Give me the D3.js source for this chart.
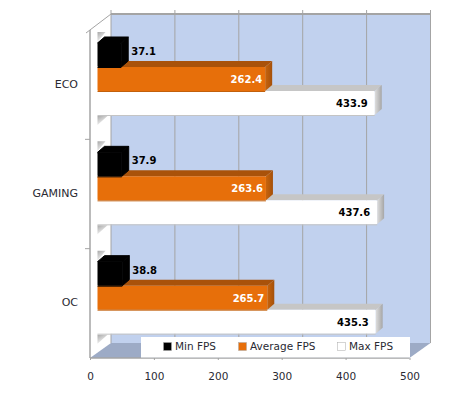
<!DOCTYPE html>
<html>
<head>
<meta charset="utf-8">
<script src="https://cdnjs.cloudflare.com/ajax/libs/d3/7.8.5/d3.min.js"></script>
<style>
html, body { margin: 0; padding: 0; background: #fff; }
svg { display: block; }
text { font-family: Verdana, "DejaVu Sans", sans-serif; font-size: 10.5px; }
</style>
</head>
<body>
<div id="chart"></div>
<script>
const categories = ['ECO', 'GAMING', 'OC'];
const seriesNames = ['Min FPS', 'Average FPS', 'Max FPS'];
const minFps = [37.1, 37.9, 38.8];
const avgFps = [262.4, 263.6, 265.7];
const maxFps = [433.9, 437.6, 435.3];
const xTicks = [0, 100, 200, 300, 400, 500];

const width = 450;
const height = 395;
const plotLeft = 90;
const plotRight = 409.5;
const plotTop = 30;
const plotBottom = 358;
const wallX = 21;
const wallY = -16;
const barInset = 7.5;
const depthX = 7;
const depthY = -6;
const textColor = '#2a2a33';
const lineColor = '#a4a4a4';

const seriesValues = [minFps, avgFps, maxFps];
const seriesFront = ['#000000', '#e76f0a', '#ffffff'];
const seriesTop = ['#000000', '#a9520a', '#c6c6c6'];
const seriesSide = ['#000000', 'url(#side-orange)', 'url(#side-white)'];
const seriesEdge = ['#000000', '#c2600c', '#c4c4c4'];
const seriesSeam = ['#000000', 'none', 'none'];
const labelColors = ['#000', '#fff', '#000'];
const labelInset = [0, 3, 7];

const scaleX = d3.scaleLinear().domain([0, 500]).range([plotLeft, plotRight]);
const scaleY = d3.scaleBand().domain(categories).range([plotTop, plotBottom]);
const scaleSeries = d3.scaleBand().domain(seriesNames).range([13, 85]);

const $svg = d3.select('#chart').append('svg')
	.attr('width', width)
	.attr('height', height);

const pts = arr => arr.map(p => p.join(',')).join(' ');

// gradients for the bar ends and wall shadows
const $defs = $svg.append('defs');
function addGradient(id, stops, x2, y2) {
	const $grad = $defs.append('linearGradient')
		.attr('id', id)
		.attr('x1', 0).attr('y1', 0)
		.attr('x2', x2).attr('y2', y2);
	stops.forEach((c, i) => {
		$grad.append('stop')
			.attr('offset', i / (stops.length - 1))
			.attr('stop-color', c);
	});
}
addGradient('side-white', ['#dedede', '#a6a6a6'], 1, 0);
addGradient('side-orange', ['#c8640c', '#a4500a'], 1, 0);
addGradient('wall-shade', ['#a8a8a8', '#ffffff'], 0.6, 1);

// back wall and floor
$svg.append('rect')
	.attr('x', plotLeft + wallX)
	.attr('y', plotTop + wallY)
	.attr('width', plotRight - plotLeft)
	.attr('height', plotBottom - plotTop + 1)
	.attr('fill', '#c1d1ee');

$svg.append('polygon')
	.attr('points', pts([
		[plotLeft, plotBottom],
		[plotLeft + wallX, plotBottom + wallY + 1],
		[plotRight + wallX, plotBottom + wallY + 1],
		[plotRight, plotBottom]
	]))
	.attr('fill', '#9dabc6');

// grid lines stick out a little above the wall
$svg.append('g').selectAll('line')
	.data(xTicks)
	.join('line')
	.attr('x1', d => scaleX(d) + wallX)
	.attr('x2', d => scaleX(d) + wallX)
	.attr('y1', plotTop + wallY - 4)
	.attr('y2', plotBottom + wallY + 1)
	.attr('stroke', lineColor)
	.attr('stroke-width', 1);

$svg.append('line')
	.attr('x1', plotLeft + wallX)
	.attr('x2', plotRight + wallX)
	.attr('y1', plotTop + wallY)
	.attr('y2', plotTop + wallY)
	.attr('stroke', lineColor)
	.attr('stroke-width', 2);

// left wall
$svg.append('line')
	.attr('x1', plotLeft).attr('x2', plotLeft)
	.attr('y1', plotTop).attr('y2', plotBottom)
	.attr('stroke', lineColor)
	.attr('stroke-width', 1.5);

$svg.append('line')
	.attr('x1', plotLeft - 4).attr('x2', plotLeft + wallX)
	.attr('y1', plotTop + 3).attr('y2', plotTop + wallY)
	.attr('stroke', lineColor);

$svg.append('line')
	.attr('x1', plotLeft).attr('x2', plotRight)
	.attr('y1', plotBottom).attr('y2', plotBottom)
	.attr('stroke', lineColor)
	.attr('stroke-width', 1.5);

// left ticks between the categories
$svg.append('g').selectAll('line')
	.data(categories.slice(1))
	.join('line')
	.attr('x1', plotLeft - 5).attr('x2', plotLeft)
	.attr('y1', d => scaleY(d)).attr('y2', d => scaleY(d))
	.attr('stroke', lineColor);

// bars
const $groups = $svg.append('g').selectAll('g')
	.data(categories)
	.join('g')
	.attr('transform', d => `translate(0,${scaleY(d)})`);

$groups.each(function (cat, i) {
	const $g = d3.select(this);
	const x0 = scaleX(0) + barInset;
	const yLast = scaleSeries(seriesNames[2]) + scaleSeries.bandwidth();

	// wall shadows next to the first bar and under the last one
	$g.append('polygon')
		.attr('points', pts([[x0, 2], [x0 + 8, 2], [x0, 12]]))
		.attr('fill', 'url(#wall-shade)');
	$g.append('polygon')
		.attr('points', pts([[x0, yLast + 1], [x0 + 10, yLast + 1], [x0, yLast + 10]]))
		.attr('fill', 'url(#wall-shade)');

	// drawn last series first, each bar sits over the one below it
	d3.range(seriesNames.length).reverse().forEach(s => {
		const name = seriesNames[s];
		const value = seriesValues[s][i];
		const x1 = scaleX(value) + barInset;
		const y0 = scaleSeries(name);
		const y1 = y0 + scaleSeries.bandwidth();
		$g.append('polygon')
			.attr('points', pts([[x0, y0], [x0 + depthX, y0 + depthY], [x1 + depthX, y0 + depthY], [x1, y0]]))
			.attr('fill', seriesTop[s])
			.attr('stroke', seriesSeam[s]);
		$g.append('polygon')
			.attr('points', pts([[x1, y0], [x1 + depthX, y0 + depthY], [x1 + depthX, y1 + depthY], [x1, y1]]))
			.attr('fill', seriesSide[s])
			.attr('stroke', seriesSeam[s]);
		$g.append('rect')
			.attr('x', x0)
			.attr('y', y0)
			.attr('width', x1 - x0)
			.attr('height', y1 - y0)
			.attr('rx', 1)
			.attr('fill', seriesFront[s]);
		$g.append('line')
			.attr('x1', x0).attr('x2', x1)
			.attr('y1', y1 + 0.5).attr('y2', y1 + 0.5)
			.attr('stroke', seriesEdge[s]);
		$g.append('text')
			.attr('x', s === 0 ? x1 + depthX + 3 : x1 - labelInset[s])
			.attr('y', (y0 + y1) / 2 + 4 + (s === 0 ? -4 : 0))
			.attr('text-anchor', s === 0 ? 'start' : 'end')
			.attr('font-weight', 'bold')
			.attr('fill', labelColors[s])
			.style('font-size', '10px')
			.text(value.toFixed(1));
	});
});

// category labels
$svg.append('g').selectAll('text')
	.data(categories)
	.join('text')
	.attr('x', 78)
	.attr('y', d => scaleY(d) + scaleY.bandwidth() / 2 + 3)
	.attr('text-anchor', 'end')
	.attr('fill', textColor)
	.style('font-size', '11px')
	.text(d => d);

// x axis labels and small ticks
const $axis = $svg.append('g')
	.attr('transform', `translate(0,${plotBottom})`)
	.call(d3.axisBottom(scaleX).tickValues(xTicks).tickSize(2).tickPadding(13));
$axis.select('.domain').remove();
$axis.selectAll('line').attr('stroke', lineColor);
$axis.selectAll('text')
	.attr('fill', textColor)
	.style('font-family', 'Verdana, "DejaVu Sans", sans-serif')
	.style('font-size', '10.5px');

// legend
const legendX = [163, 238, 337];
$svg.append('rect')
	.attr('x', 141).attr('y', 337)
	.attr('width', 269).attr('height', 20.5)
	.attr('fill', '#fff');
const $legend = $svg.append('g').selectAll('g')
	.data(seriesNames)
	.join('g')
	.attr('transform', (d, i) => `translate(${legendX[i]},342)`);
$legend.append('rect')
	.attr('x', 0.5).attr('y', 0.5)
	.attr('width', 8).attr('height', 8)
	.attr('fill', (d, i) => seriesFront[i])
	.attr('stroke', '#aaa')
	.attr('stroke-width', 0.5);
$legend.append('text')
	.attr('x', 12).attr('y', 7.5)
	.attr('fill', textColor)
	.text(d => d);
</script>
</body>
</html>
